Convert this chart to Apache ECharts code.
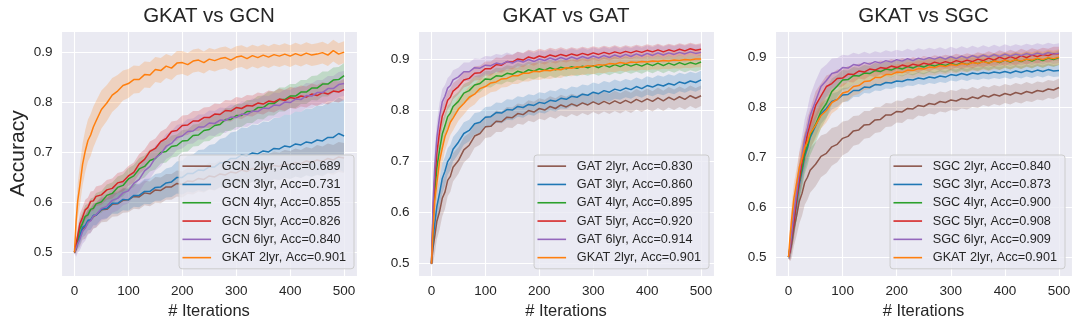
<!DOCTYPE html>
<html>
<head>
<meta charset="utf-8">
<script src="https://cdn.jsdelivr.net/npm/echarts@6/dist/echarts.min.js"></script>
<style>
html, body { margin: 0; padding: 0; background: #ffffff; }
#chart { width: 1080px; height: 326px; }
</style>
</head>
<body>
<div id="chart"></div>
<script>
// Training iterations at which accuracy is recorded
const iterations = [0, 3, 6, 10, 15, 20, 25, 30, 35, 40,
  50, 60, 70, 80, 90, 100, 110, 120, 130, 140,
  150, 160, 170, 180, 190, 200, 210, 220, 230, 240,
  250, 260, 270, 280, 290, 300, 310, 320, 330, 340,
  350, 360, 370, 380, 390, 400, 410, 420, 430, 440,
  450, 460, 470, 480, 490, 500];

const panelTitles = ['GKAT vs GCN', 'GKAT vs GAT', 'GKAT vs SGC'];
const xAxisTitle = '# Iterations';
const yAxisTitle = 'Accuracy';

// ---------- GKAT vs GCN ----------
const gcnNames = ['GCN 2lyr, Acc=0.689', 'GCN 3lyr, Acc=0.731', 'GCN 4lyr, Acc=0.855',
  'GCN 5lyr, Acc=0.826', 'GCN 6lyr, Acc=0.840', 'GKAT 2lyr, Acc=0.901'];
const gcn2Mean = [0.500,0.506,0.521,0.531,0.547,0.551,0.562,0.564,0.572,0.574,
  0.585,0.586,0.596,0.597,0.604,0.605,0.612,0.611,0.619,0.617,
  0.625,0.624,0.631,0.631,0.638,0.636,0.643,0.642,0.648,0.646,
  0.653,0.651,0.657,0.655,0.661,0.659,0.665,0.662,0.668,0.666,
  0.671,0.669,0.674,0.672,0.677,0.675,0.680,0.677,0.683,0.680,
  0.685,0.682,0.688,0.685,0.691,0.689];
const gcn2Spread = [0.003,0.010,0.016,0.020,0.022,0.024,0.025,0.025,0.025,0.025,
  0.025,0.025,0.025,0.025,0.025,0.025,0.025,0.025,0.025,0.025,
  0.026,0.026,0.026,0.026,0.026,0.026,0.026,0.026,0.026,0.026,
  0.027,0.027,0.027,0.027,0.027,0.027,0.027,0.027,0.027,0.027,
  0.028,0.028,0.028,0.028,0.028,0.028,0.028,0.028,0.028,0.028,
  0.030,0.030,0.030,0.030,0.030,0.030];
const gcn3Mean = [0.500,0.511,0.524,0.533,0.550,0.554,0.564,0.565,0.574,0.574,
  0.586,0.588,0.598,0.598,0.606,0.605,0.614,0.614,0.622,0.622,
  0.630,0.631,0.639,0.641,0.650,0.650,0.658,0.658,0.665,0.664,
  0.671,0.671,0.679,0.680,0.688,0.688,0.695,0.693,0.699,0.697,
  0.703,0.701,0.708,0.707,0.713,0.711,0.717,0.715,0.721,0.719,
  0.725,0.723,0.730,0.730,0.738,0.733];
const gcn3Spread = [0.003,0.010,0.015,0.018,0.020,0.020,0.020,0.020,0.020,0.020,
  0.020,0.020,0.021,0.021,0.022,0.022,0.023,0.024,0.025,0.026,
  0.027,0.028,0.029,0.030,0.032,0.034,0.036,0.038,0.040,0.042,
  0.044,0.046,0.048,0.050,0.052,0.054,0.055,0.056,0.057,0.058,
  0.059,0.060,0.061,0.062,0.063,0.064,0.065,0.066,0.067,0.068,
  0.069,0.070,0.070,0.071,0.072,0.072];
const gcn4Mean = [0.500,0.514,0.526,0.547,0.558,0.572,0.575,0.586,0.588,0.597,
  0.601,0.614,0.618,0.630,0.634,0.647,0.653,0.667,0.672,0.684,
  0.688,0.700,0.702,0.712,0.714,0.723,0.724,0.734,0.735,0.744,
  0.746,0.754,0.756,0.766,0.766,0.774,0.774,0.782,0.782,0.790,
  0.790,0.798,0.798,0.806,0.806,0.813,0.813,0.821,0.821,0.829,
  0.829,0.837,0.837,0.845,0.846,0.854];
const gcn4Spread = [0.003,0.012,0.018,0.020,0.022,0.022,0.022,0.022,0.022,0.022,
  0.022,0.022,0.022,0.022,0.022,0.022,0.022,0.022,0.022,0.022,
  0.022,0.022,0.022,0.022,0.022,0.022,0.022,0.022,0.022,0.022,
  0.023,0.023,0.023,0.023,0.023,0.023,0.023,0.023,0.023,0.023,
  0.024,0.024,0.024,0.024,0.024,0.024,0.024,0.024,0.024,0.024,
  0.025,0.025,0.025,0.025,0.025,0.025];
const gcn5Mean = [0.500,0.517,0.533,0.557,0.570,0.585,0.590,0.602,0.603,0.612,
  0.615,0.625,0.628,0.639,0.642,0.653,0.660,0.677,0.686,0.702,
  0.708,0.722,0.728,0.742,0.744,0.754,0.755,0.763,0.763,0.770,
  0.770,0.777,0.776,0.784,0.783,0.790,0.788,0.794,0.793,0.799,
  0.797,0.803,0.801,0.807,0.804,0.810,0.808,0.813,0.811,0.817,
  0.814,0.820,0.817,0.823,0.821,0.826];
const gcn5Spread = [0.003,0.012,0.018,0.020,0.020,0.020,0.020,0.020,0.020,0.020,
  0.020,0.020,0.020,0.020,0.020,0.020,0.020,0.020,0.020,0.020,
  0.020,0.020,0.020,0.020,0.020,0.020,0.020,0.020,0.020,0.020,
  0.021,0.021,0.021,0.021,0.021,0.021,0.021,0.021,0.021,0.021,
  0.021,0.021,0.021,0.021,0.021,0.021,0.021,0.021,0.021,0.021,
  0.021,0.021,0.021,0.021,0.021,0.021];
const gcn6Mean = [0.500,0.503,0.517,0.526,0.542,0.548,0.560,0.563,0.573,0.575,
  0.588,0.592,0.604,0.608,0.619,0.623,0.638,0.646,0.663,0.672,
  0.689,0.697,0.712,0.718,0.730,0.733,0.742,0.743,0.751,0.751,
  0.759,0.758,0.765,0.764,0.771,0.770,0.777,0.776,0.783,0.782,
  0.789,0.788,0.795,0.794,0.801,0.800,0.807,0.806,0.814,0.813,
  0.820,0.820,0.828,0.828,0.836,0.838];
const gcn6Spread = [0.003,0.012,0.018,0.022,0.025,0.025,0.025,0.025,0.025,0.025,
  0.025,0.025,0.025,0.025,0.025,0.025,0.025,0.025,0.025,0.025,
  0.025,0.025,0.025,0.025,0.025,0.025,0.025,0.025,0.025,0.025,
  0.025,0.025,0.025,0.025,0.025,0.025,0.025,0.025,0.025,0.025,
  0.025,0.025,0.025,0.025,0.025,0.025,0.025,0.025,0.025,0.025,
  0.025,0.025,0.025,0.025,0.025,0.025];
const gkatVsGcnMean = [0.500,0.562,0.603,0.634,0.676,0.703,0.724,0.735,0.751,0.763,
  0.786,0.799,0.815,0.823,0.834,0.838,0.846,0.846,0.856,0.855,
  0.866,0.864,0.873,0.869,0.879,0.880,0.876,0.883,0.885,0.880,
  0.887,0.884,0.888,0.890,0.885,0.891,0.893,0.888,0.894,0.890,
  0.895,0.891,0.896,0.893,0.897,0.893,0.898,0.894,0.899,0.895,
  0.897,0.900,0.895,0.904,0.897,0.901];
const gkatVsGcnSpread = [0.004,0.025,0.035,0.040,0.042,0.042,0.042,0.042,0.041,0.040,
  0.038,0.036,0.034,0.032,0.030,0.029,0.028,0.027,0.026,0.026,
  0.025,0.025,0.024,0.024,0.024,0.023,0.023,0.023,0.023,0.022,
  0.022,0.022,0.022,0.022,0.022,0.022,0.022,0.022,0.022,0.022,
  0.022,0.022,0.022,0.022,0.022,0.022,0.022,0.022,0.022,0.022,
  0.022,0.022,0.022,0.022,0.022,0.022];

// ---------- GKAT vs GAT ----------
const gatNames = ['GAT 2lyr, Acc=0.830', 'GAT 3lyr, Acc=0.860', 'GAT 4lyr, Acc=0.895',
  'GAT 5lyr, Acc=0.920', 'GAT 6lyr, Acc=0.914', 'GKAT 2lyr, Acc=0.901'];
const gat2Mean = [0.500,0.532,0.553,0.583,0.602,0.628,0.640,0.663,0.671,0.689,
  0.702,0.723,0.732,0.750,0.755,0.768,0.769,0.779,0.778,0.787,
  0.786,0.794,0.792,0.800,0.797,0.804,0.801,0.808,0.804,0.811,
  0.807,0.813,0.809,0.815,0.811,0.817,0.812,0.818,0.813,0.819,
  0.814,0.820,0.815,0.822,0.817,0.823,0.818,0.825,0.819,0.826,
  0.821,0.827,0.822,0.829,0.824,0.829];
const gat2Spread = [0.004,0.030,0.035,0.035,0.035,0.035,0.033,0.031,0.030,0.028,
  0.026,0.025,0.024,0.023,0.022,0.022,0.021,0.021,0.020,0.020,
  0.020,0.020,0.020,0.020,0.020,0.020,0.020,0.020,0.020,0.020,
  0.020,0.020,0.020,0.020,0.020,0.020,0.020,0.020,0.020,0.020,
  0.020,0.020,0.020,0.020,0.020,0.020,0.020,0.020,0.020,0.020,
  0.020,0.020,0.020,0.020,0.020,0.020];
const gat3Mean = [0.500,0.547,0.578,0.612,0.638,0.667,0.681,0.700,0.708,0.724,
  0.738,0.755,0.761,0.774,0.777,0.787,0.788,0.796,0.795,0.802,
  0.801,0.808,0.806,0.812,0.810,0.816,0.814,0.820,0.818,0.824,
  0.822,0.828,0.826,0.832,0.830,0.836,0.833,0.839,0.836,0.842,
  0.839,0.844,0.841,0.847,0.843,0.849,0.846,0.851,0.848,0.853,
  0.850,0.856,0.853,0.858,0.855,0.860];
const gat3Spread = [0.004,0.025,0.030,0.030,0.030,0.030,0.028,0.026,0.025,0.024,
  0.023,0.022,0.021,0.021,0.020,0.020,0.020,0.020,0.020,0.020,
  0.020,0.020,0.020,0.020,0.020,0.020,0.020,0.020,0.020,0.020,
  0.019,0.019,0.019,0.019,0.019,0.019,0.019,0.019,0.019,0.019,
  0.018,0.018,0.018,0.018,0.018,0.018,0.018,0.018,0.018,0.018,
  0.018,0.018,0.018,0.018,0.018,0.018];
const gat4Mean = [0.500,0.582,0.638,0.688,0.723,0.754,0.770,0.788,0.795,0.808,
  0.818,0.834,0.839,0.850,0.853,0.862,0.861,0.868,0.867,0.873,
  0.871,0.877,0.874,0.880,0.877,0.882,0.879,0.884,0.880,0.885,
  0.882,0.886,0.883,0.887,0.884,0.888,0.884,0.889,0.885,0.890,
  0.886,0.891,0.887,0.891,0.887,0.892,0.888,0.893,0.888,0.893,
  0.889,0.894,0.890,0.894,0.891,0.895];
const gat4Spread = [0.004,0.030,0.030,0.030,0.028,0.026,0.024,0.022,0.020,0.020,
  0.019,0.018,0.018,0.017,0.017,0.016,0.016,0.016,0.016,0.016,
  0.016,0.016,0.016,0.016,0.016,0.016,0.016,0.016,0.016,0.016,
  0.016,0.016,0.016,0.016,0.016,0.016,0.016,0.016,0.016,0.016,
  0.015,0.015,0.015,0.015,0.015,0.015,0.015,0.015,0.015,0.015,
  0.015,0.015,0.015,0.015,0.015,0.015];
const gat5Mean = [0.500,0.602,0.663,0.717,0.758,0.789,0.803,0.820,0.826,0.838,
  0.847,0.860,0.863,0.873,0.874,0.882,0.882,0.890,0.889,0.896,
  0.895,0.901,0.899,0.905,0.902,0.907,0.904,0.909,0.906,0.910,
  0.907,0.911,0.908,0.912,0.909,0.913,0.910,0.914,0.911,0.915,
  0.912,0.916,0.913,0.917,0.914,0.918,0.915,0.919,0.915,0.919,
  0.916,0.920,0.917,0.921,0.918,0.920];
const gat5Spread = [0.004,0.030,0.030,0.028,0.025,0.022,0.020,0.018,0.017,0.016,
  0.015,0.015,0.014,0.014,0.014,0.014,0.014,0.014,0.014,0.014,
  0.014,0.014,0.014,0.014,0.014,0.014,0.014,0.014,0.014,0.014,
  0.013,0.013,0.013,0.013,0.013,0.013,0.013,0.013,0.013,0.013,
  0.012,0.012,0.012,0.012,0.012,0.012,0.012,0.012,0.012,0.012,
  0.012,0.012,0.012,0.012,0.012,0.012];
const gat6Mean = [0.500,0.622,0.688,0.747,0.788,0.817,0.828,0.844,0.849,0.860,
  0.866,0.876,0.876,0.884,0.883,0.889,0.888,0.893,0.891,0.896,
  0.893,0.898,0.895,0.900,0.896,0.901,0.898,0.903,0.899,0.904,
  0.900,0.905,0.901,0.906,0.902,0.907,0.903,0.908,0.904,0.909,
  0.905,0.910,0.906,0.911,0.907,0.912,0.908,0.913,0.909,0.913,
  0.910,0.914,0.911,0.915,0.912,0.914];
const gat6Spread = [0.004,0.035,0.035,0.030,0.028,0.025,0.022,0.020,0.020,0.019,
  0.018,0.018,0.018,0.018,0.018,0.018,0.018,0.018,0.018,0.018,
  0.017,0.017,0.017,0.017,0.017,0.017,0.017,0.017,0.017,0.017,
  0.017,0.017,0.017,0.017,0.017,0.017,0.017,0.017,0.017,0.017,
  0.016,0.016,0.016,0.016,0.016,0.016,0.016,0.016,0.016,0.016,
  0.016,0.016,0.016,0.016,0.016,0.016];
const gkatVsGatMean = [0.500,0.568,0.622,0.658,0.701,0.726,0.749,0.762,0.777,0.785,
  0.803,0.814,0.826,0.832,0.843,0.847,0.854,0.856,0.862,0.863,
  0.868,0.868,0.873,0.873,0.877,0.876,0.879,0.878,0.881,0.880,
  0.884,0.883,0.886,0.885,0.888,0.887,0.890,0.889,0.892,0.891,
  0.894,0.892,0.895,0.894,0.896,0.895,0.897,0.896,0.898,0.897,
  0.899,0.898,0.900,0.899,0.901,0.901];
const gkatVsGatSpread = [0.004,0.025,0.030,0.030,0.030,0.030,0.028,0.026,0.025,0.024,
  0.023,0.022,0.021,0.020,0.019,0.018,0.018,0.018,0.017,0.017,
  0.016,0.016,0.016,0.016,0.016,0.016,0.016,0.016,0.016,0.016,
  0.016,0.016,0.016,0.016,0.016,0.016,0.016,0.016,0.016,0.016,
  0.016,0.016,0.016,0.016,0.016,0.016,0.016,0.016,0.016,0.016,
  0.016,0.016,0.016,0.016,0.016,0.016];

// ---------- GKAT vs SGC ----------
const sgcNames = ['SGC 2lyr, Acc=0.840', 'SGC 3lyr, Acc=0.873', 'SGC 4lyr, Acc=0.900',
  'SGC 5lyr, Acc=0.908', 'SGC 6lyr, Acc=0.909', 'GKAT 2lyr, Acc=0.901'];
const sgc2Mean = [0.500,0.512,0.528,0.557,0.583,0.612,0.628,0.650,0.660,0.674,
  0.686,0.702,0.708,0.721,0.726,0.738,0.742,0.753,0.755,0.765,
  0.766,0.775,0.776,0.785,0.785,0.792,0.791,0.798,0.797,0.804,
  0.802,0.808,0.806,0.812,0.810,0.815,0.813,0.818,0.816,0.821,
  0.818,0.824,0.821,0.826,0.823,0.828,0.825,0.830,0.827,0.832,
  0.829,0.834,0.832,0.837,0.835,0.840];
const sgc2Spread = [0.004,0.020,0.030,0.035,0.040,0.045,0.045,0.045,0.045,0.045,
  0.044,0.042,0.040,0.038,0.036,0.034,0.032,0.030,0.029,0.028,
  0.027,0.026,0.025,0.024,0.023,0.022,0.022,0.021,0.021,0.020,
  0.020,0.020,0.020,0.020,0.020,0.020,0.020,0.020,0.020,0.020,
  0.019,0.019,0.019,0.019,0.019,0.019,0.019,0.019,0.019,0.019,
  0.018,0.018,0.018,0.018,0.018,0.018];
const sgc3Mean = [0.500,0.516,0.538,0.572,0.608,0.647,0.673,0.702,0.718,0.740,
  0.763,0.787,0.798,0.812,0.816,0.825,0.826,0.834,0.834,0.841,
  0.840,0.846,0.845,0.850,0.849,0.853,0.852,0.856,0.855,0.859,
  0.857,0.861,0.859,0.863,0.861,0.866,0.864,0.868,0.865,0.869,
  0.867,0.870,0.868,0.871,0.869,0.872,0.869,0.873,0.870,0.874,
  0.871,0.875,0.872,0.876,0.873,0.874];
const sgc3Spread = [0.004,0.020,0.025,0.030,0.030,0.030,0.030,0.028,0.026,0.024,
  0.022,0.020,0.018,0.016,0.015,0.014,0.014,0.013,0.013,0.012,
  0.012,0.012,0.012,0.012,0.012,0.012,0.012,0.012,0.012,0.012,
  0.012,0.012,0.012,0.012,0.012,0.012,0.012,0.012,0.012,0.012,
  0.012,0.012,0.012,0.012,0.012,0.012,0.012,0.012,0.012,0.012,
  0.012,0.012,0.012,0.012,0.012,0.012];
const sgc4Mean = [0.500,0.522,0.543,0.577,0.613,0.652,0.678,0.707,0.723,0.744,
  0.766,0.792,0.808,0.832,0.843,0.855,0.856,0.864,0.863,0.869,
  0.868,0.874,0.872,0.877,0.875,0.880,0.877,0.882,0.879,0.884,
  0.881,0.886,0.883,0.887,0.884,0.889,0.885,0.890,0.886,0.891,
  0.888,0.893,0.889,0.894,0.890,0.895,0.891,0.896,0.892,0.897,
  0.893,0.898,0.894,0.899,0.896,0.900];
const sgc4Spread = [0.004,0.025,0.030,0.035,0.040,0.040,0.040,0.040,0.040,0.040,
  0.038,0.034,0.030,0.026,0.022,0.020,0.018,0.017,0.016,0.016,
  0.015,0.015,0.015,0.015,0.015,0.015,0.015,0.015,0.015,0.015,
  0.015,0.015,0.015,0.015,0.015,0.015,0.015,0.015,0.015,0.015,
  0.015,0.015,0.015,0.015,0.015,0.015,0.015,0.015,0.015,0.015,
  0.015,0.015,0.015,0.015,0.015,0.015];
const sgc5Mean = [0.500,0.513,0.542,0.570,0.617,0.653,0.692,0.718,0.747,0.766,
  0.804,0.823,0.842,0.848,0.858,0.859,0.867,0.866,0.873,0.871,
  0.877,0.875,0.880,0.878,0.883,0.880,0.885,0.882,0.887,0.884,
  0.889,0.886,0.891,0.888,0.892,0.889,0.894,0.891,0.895,0.892,
  0.897,0.894,0.899,0.895,0.901,0.897,0.902,0.898,0.904,0.900,
  0.905,0.902,0.906,0.904,0.908,0.908];
const sgc5Spread = [0.004,0.020,0.030,0.035,0.035,0.035,0.035,0.035,0.033,0.030,
  0.028,0.025,0.022,0.020,0.018,0.017,0.016,0.016,0.015,0.015,
  0.014,0.014,0.014,0.014,0.014,0.014,0.014,0.014,0.014,0.014,
  0.014,0.014,0.014,0.014,0.014,0.014,0.014,0.014,0.014,0.014,
  0.014,0.014,0.014,0.014,0.014,0.014,0.014,0.014,0.014,0.014,
  0.014,0.014,0.014,0.014,0.014,0.014];
const sgc6Mean = [0.500,0.521,0.548,0.588,0.628,0.672,0.703,0.737,0.758,0.784,
  0.813,0.842,0.854,0.868,0.871,0.880,0.879,0.886,0.884,0.890,
  0.887,0.892,0.889,0.894,0.891,0.896,0.893,0.898,0.894,0.899,
  0.896,0.900,0.897,0.901,0.897,0.902,0.898,0.903,0.899,0.904,
  0.900,0.905,0.901,0.906,0.902,0.907,0.903,0.907,0.904,0.908,
  0.905,0.909,0.906,0.910,0.907,0.909];
const sgc6Spread = [0.004,0.025,0.030,0.035,0.040,0.040,0.040,0.040,0.040,0.040,
  0.040,0.035,0.032,0.030,0.028,0.026,0.025,0.024,0.023,0.022,
  0.021,0.021,0.021,0.021,0.021,0.020,0.020,0.020,0.020,0.020,
  0.020,0.020,0.020,0.020,0.020,0.020,0.020,0.020,0.020,0.020,
  0.020,0.020,0.020,0.020,0.020,0.020,0.020,0.020,0.020,0.020,
  0.020,0.020,0.020,0.020,0.020,0.020];
const gkatVsSgcMean = [0.500,0.543,0.578,0.618,0.648,0.680,0.698,0.720,0.731,0.748,
  0.764,0.784,0.794,0.810,0.816,0.829,0.832,0.842,0.844,0.852,
  0.853,0.860,0.860,0.866,0.866,0.871,0.870,0.875,0.874,0.878,
  0.877,0.881,0.880,0.884,0.882,0.886,0.884,0.888,0.886,0.890,
  0.888,0.892,0.889,0.893,0.891,0.895,0.892,0.896,0.893,0.897,
  0.895,0.899,0.896,0.900,0.898,0.901];
const gkatVsSgcSpread = [0.004,0.025,0.030,0.030,0.030,0.030,0.030,0.030,0.030,0.030,
  0.028,0.026,0.024,0.022,0.020,0.019,0.018,0.018,0.017,0.017,
  0.016,0.016,0.016,0.016,0.016,0.016,0.016,0.016,0.016,0.016,
  0.016,0.016,0.016,0.016,0.016,0.016,0.016,0.016,0.016,0.016,
  0.016,0.016,0.016,0.016,0.016,0.016,0.016,0.016,0.016,0.016,
  0.016,0.016,0.016,0.016,0.016,0.016];

// ---------- styling and layout ----------
const FONT = '"Liberation Sans", Arial, Helvetica, sans-serif';
const TEXT = '#262626';
// tab10 colours in the order the curves are drawn
const lineColors = ['#8c564b', '#1f77b4', '#2ca02c', '#d62728', '#9467bd', '#ff7f0e'];

const panels = [
  { title: panelTitles[0], names: gcnNames,
    means: [gcn2Mean, gcn3Mean, gcn4Mean, gcn5Mean, gcn6Mean, gkatVsGcnMean],
    spreads: [gcn2Spread, gcn3Spread, gcn4Spread, gcn5Spread, gcn6Spread, gkatVsGcnSpread],
    grid: { left: 61, top: 31, width: 296, height: 245 }, yRange: [0.4525, 0.9433], legendRight: 726 },
  { title: panelTitles[1], names: gatNames,
    means: [gat2Mean, gat3Mean, gat4Mean, gat5Mean, gat6Mean, gkatVsGatMean],
    spreads: [gat2Spread, gat3Spread, gat4Spread, gat5Spread, gat6Spread, gkatVsGatSpread],
    grid: { left: 418, top: 31, width: 296, height: 245 }, yRange: [0.4757, 0.9559], legendRight: 371 },
  { title: panelTitles[2], names: sgcNames,
    means: [sgc2Mean, sgc3Mean, sgc4Mean, sgc5Mean, sgc6Mean, gkatVsSgcMean],
    spreads: [sgc2Spread, sgc3Spread, sgc4Spread, sgc5Spread, sgc6Spread, gkatVsSgcSpread],
    grid: { left: 775, top: 31, width: 297, height: 245 }, yRange: [0.4619, 0.9534], legendRight: 15 }
];

function withAlpha(hex, a) {
  const n = parseInt(hex.slice(1), 16);
  return 'rgba(' + (n >> 16) + ',' + ((n >> 8) & 255) + ',' + (n & 255) + ',' + a + ')';
}

const grids = [], xAxes = [], yAxes = [], titles = [], legends = [], series = [];

panels.forEach((p, k) => {
  grids.push(Object.assign({ show: true, backgroundColor: '#eaeaf2', borderWidth: 0 }, p.grid));

  titles.push({
    text: p.title, left: p.grid.left + p.grid.width / 2, top: 6, textAlign: 'center', padding: 0,
    textStyle: { fontFamily: FONT, fontSize: 20.5, fontWeight: 'normal', color: TEXT }
  });

  xAxes.push({
    gridIndex: k, type: 'value', min: -25, max: 524, splitNumber: 5,
    axisLine: { show: false }, axisTick: { show: false },
    axisLabel: { showMinLabel: false, showMaxLabel: false, margin: 8, fontFamily: FONT, fontSize: 13.5, color: TEXT },
    splitLine: { lineStyle: { color: '#ffffff', width: 1.1 } },
    name: xAxisTitle, nameLocation: 'middle', nameGap: 23,
    nameTextStyle: { fontFamily: FONT, fontSize: 16.5, color: TEXT }
  });

  yAxes.push(Object.assign({
    gridIndex: k, type: 'value', min: p.yRange[0], max: p.yRange[1], splitNumber: 5,
    axisLine: { show: false }, axisTick: { show: false },
    axisLabel: { showMinLabel: false, showMaxLabel: false, margin: 8.5, fontFamily: FONT, fontSize: 13.5, color: TEXT,
      formatter: v => v.toFixed(1) },
    splitLine: { lineStyle: { color: '#ffffff', width: 1.1 } }
  }, k === 0 ? {
    name: yAxisTitle, nameLocation: 'middle', nameGap: 32,
    nameTextStyle: { fontFamily: FONT, fontSize: 21, color: TEXT }
  } : {}));

  legends.push({
    data: p.names, orient: 'vertical', right: p.legendRight, top: 155,
    icon: 'rect', itemWidth: 28.6, itemHeight: 1.6, itemGap: 0,
    padding: [2, 8, 2, 3.4], selectedMode: false,
    backgroundColor: 'rgba(234,234,242,0.8)', borderColor: '#cccccc', borderWidth: 1, borderRadius: 3,
    textStyle: { fontFamily: FONT, fontSize: 12.7, color: TEXT, lineHeight: 18.3, padding: [0, 0, 0, 5.7] }
  });

  p.names.forEach((name, j) => {
    const color = lineColors[j];
    const mean = p.means[j], spread = p.spreads[j];
    const rows = iterations.map((x, i) => [x, +(mean[i] - spread[i]).toFixed(4), +(mean[i] + spread[i]).toFixed(4)]);
    // shaded spread around the mean curve
    series.push({
      type: 'custom', xAxisIndex: k, yAxisIndex: k, silent: true, clip: true,
      encode: { x: 0, y: [1, 2] },
      data: rows,
      renderItem: (params, api) => {
        if (params.dataIndex !== 0) return null;
        const upper = rows.map(r => api.coord([r[0], r[2]]));
        const lower = rows.map(r => api.coord([r[0], r[1]])).reverse();
        return { type: 'polygon', shape: { points: upper.concat(lower) },
          style: { fill: withAlpha(color, 0.22), stroke: null } };
      }
    });
    // mean accuracy curve
    series.push({
      type: 'line', name, xAxisIndex: k, yAxisIndex: k,
      data: iterations.map((x, i) => [x, mean[i]]),
      symbol: 'none', showSymbol: false, color: color,
      lineStyle: { color: color, width: 1.5 }, itemStyle: { color: color },
      emphasis: { disabled: true }
    });
  });
});

const chart = echarts.init(document.getElementById('chart'), null, { renderer: 'canvas' });
chart.setOption({
  backgroundColor: '#ffffff',
  animation: false,
  title: titles, grid: grids, xAxis: xAxes, yAxis: yAxes, legend: legends, series: series
});
</script>
</body>
</html>
